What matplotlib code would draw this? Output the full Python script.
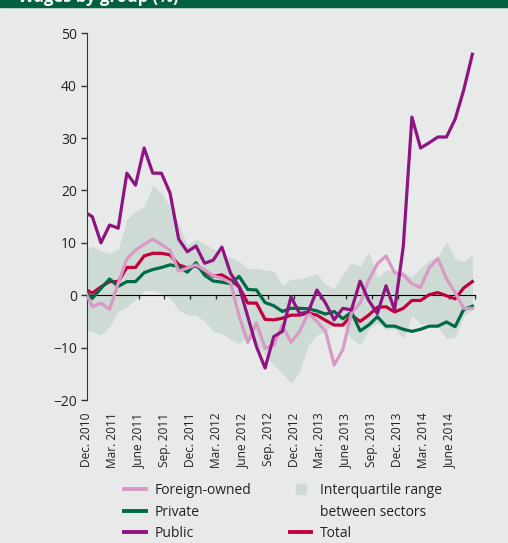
import numpy as np
import matplotlib
matplotlib.use("Agg")
import matplotlib.pyplot as plt
from matplotlib.lines import Line2D
from matplotlib.patches import Rectangle

# quarterly tick labels, Dec. 2010 .. Sep. 2014 (last tick unlabelled)
quarter_labels = ['Dec. 2010', 'Mar. 2011', 'June 2011', 'Sep. 2011', 'Dec. 2011',
                  'Mar. 2012', 'June 2012', 'Sep. 2012', 'Dec. 2012', 'Mar. 2013',
                  'June 2013', 'Sep. 2013', 'Dec. 2013', 'Mar. 2014', 'June 2014', '']

# monthly series (%)
foreign = [1.3, -2.2, -1.5, -2.7, 2.3, 6.9, 8.6, 9.7, 10.7, 9.7, 8.6, 4.6, 5.2, 5.8, 4.8, 3.7,
           3.2, 2.4, -4.0, -9.0, -5.3, -10.1, -9.6, -5.7, -9.0, -6.9, -3.4, -5.0, -6.9, -13.3,
           -10.4, -3.4, -1.5, 2.9, 6.0, 7.5, 4.3, 3.9, 2.2, 1.5, 5.2, 7.0, 3.2, 0.5, -2.5, -2.5]
private = [0.9, -0.6, 1.3, 3.1, 1.7, 2.6, 2.6, 4.3, 4.9, 5.3, 5.8, 5.5, 4.4, 6.2, 3.8, 2.7,
           2.5, 2.2, 3.6, 1.1, 1.0, -1.4, -2.0, -3.1, -2.5, -2.5, -2.6, -3.0, -3.6, -3.1,
           -4.5, -3.2, -6.8, -5.7, -4.1, -5.9, -5.9, -6.5, -6.9, -6.5, -5.9, -5.9, -5.1, -6.0, -2.7, -2.1]
public = [16.0, 15.0, 10.0, 13.4, 12.8, 23.3, 21.0, 28.1, 23.3, 23.3, 19.5, 10.7, 8.3, 9.4, 6.1, 6.7,
          9.2, 4.2, 1.6, -4.1, -9.8, -13.9, -7.9, -6.9, -0.3, -3.5, -3.2, 1.0, -1.5, -4.7,
          -2.5, -2.8, 2.7, -1.0, -3.5, 1.8, -2.8, 9.3, 34.0, 28.1, 29.1, 30.2, 30.2, 33.6, 39.2, 46.0]
total = [1.3, 0.4, 1.6, 2.6, 2.6, 5.3, 5.3, 7.5, 8.0, 8.0, 7.7, 5.8, 5.2, 5.6, 4.5, 3.6,
         3.9, 2.9, 1.6, -1.5, -1.5, -4.6, -4.7, -4.4, -3.8, -3.8, -3.4, -3.8, -4.8, -5.7,
         -5.7, -3.8, -5.0, -3.8, -2.3, -2.2, -3.2, -2.5, -1.0, -1.0, 0.1, 0.5, -0.1, -0.7, 1.4, 2.6]
iqr_high = [9.0, 9.3, 8.5, 8.0, 8.8, 14.5, 16.0, 17.0, 21.0, 19.5, 17.0, 13.5, 9.5, 10.8, 9.8, 8.8,
            8.0, 7.2, 6.5, 5.0, 5.2, 4.8, 4.6, 2.0, 3.1, 3.1, 3.6, 4.1, 2.0, 1.3,
            4.0, 6.2, 5.5, 8.3, 3.4, 4.8, 4.8, 4.5, 3.5, 5.2, 6.7, 7.4, 10.3, 7.0, 6.4, 7.8]
iqr_low = [-6.5, -7.0, -7.6, -6.0, -3.1, -2.3, -0.8, 0.8, 1.0, 0.3, -0.6, -2.8, -3.8, -3.8, -5.0, -6.9,
           -7.3, -8.5, -9.2, -7.9, -9.5, -11.4, -13.3, -14.9, -16.8, -14.6, -9.5, -7.6, -6.9, -5.5,
           -6.0, -8.2, -9.5, -6.5, -5.3, -6.5, -6.5, -8.3, -3.8, -5.5, -5.3, -6.0, -8.3, -8.0, -4.0, -2.8]

plt.rcParams['font.family'] = ['Open Sans', 'DejaVu Sans']

bg = '#e8eae9'
c_foreign = '#d899c5'
c_private = '#006a45'
c_public = '#8f1482'
c_total = '#c1003d'
c_band = '#cddbd4'

fig = plt.figure(figsize=(5.08, 5.43), dpi=100, facecolor=bg)
ax = fig.add_axes([86.7 / 508, 1 - 400 / 543, (475.4 - 86.7) / 508, (400 - 33.3) / 543])
ax.set_facecolor(bg)

# monthly points sit a little before the quarter ticks
months = np.arange(len(total)) - 0.35
ax.fill_between(months, iqr_low, iqr_high, color=c_band, lw=0, zorder=1)
ax.plot(months, total, color=c_total, lw=2.3, zorder=3)
ax.plot(months, private, color=c_private, lw=2.3, zorder=3)
ax.plot(months, foreign, color=c_foreign, lw=2.3, zorder=3)
ax.plot(months, public, color=c_public, lw=2.3, zorder=3)

ax.set_xlim(0, 45)
ax.set_ylim(-20, 50)
ax.set_yticks(range(-20, 51, 10))
for s in ['top', 'right']:
    ax.spines[s].set_visible(False)
ax.spines['bottom'].set_position(('data', 0))
ax.spines['bottom'].set_zorder(2.5)
ax.spines['left'].set_color('#333333')
ax.set_xticks(range(0, 46, 3))
ax.tick_params(axis='x', length=3, width=1, direction='out', labelbottom=False, color='#333333')
ax.tick_params(axis='y', length=4, width=1, labelsize=10, pad=3, color='#333333', labelcolor='#222222')

# date labels under the plot area
sec = ax.secondary_xaxis('bottom')
sec.set_xticks(range(0, 46, 3), quarter_labels, rotation=90, fontsize=8.6, color='#222222')
sec.spines['bottom'].set_visible(False)
sec.tick_params(length=0, pad=9)

# header band (title is cut off at the top edge, as in the source)
fig.patches.append(Rectangle((0, 1 - 7 / 543), 1, 7 / 543, transform=fig.transFigure,
                             color='#00603f', zorder=0))
fig.text(0.035, 1 - 1.5 / 543, 'Wages by group (%)', color='white', fontweight='bold',
         fontsize=12, va='baseline')

handles = [Line2D([], [], color=c_foreign, lw=2.8),
           Line2D([], [], color=c_private, lw=2.8),
           Line2D([], [], color=c_public, lw=2.8),
           Line2D([], [], marker='s', ls='none', ms=7.5, color=c_band),
           Line2D([], [], ls='none'),
           Line2D([], [], color=c_total, lw=2.8)]
labels = ['Foreign-owned', 'Private', 'Public', 'Interquartile range', 'between sectors', 'Total']
fig.legend(handles, labels, ncol=2, loc='upper left', bbox_to_anchor=(124.3 / 508, 1 - 483 / 543),
           frameon=False, fontsize=10, handlelength=1.55, handletextpad=0.6,
           columnspacing=2.8, labelspacing=0.47, borderpad=0, borderaxespad=0,
           labelcolor='#222222')

fig.savefig('out.png', dpi=100, facecolor=bg)
